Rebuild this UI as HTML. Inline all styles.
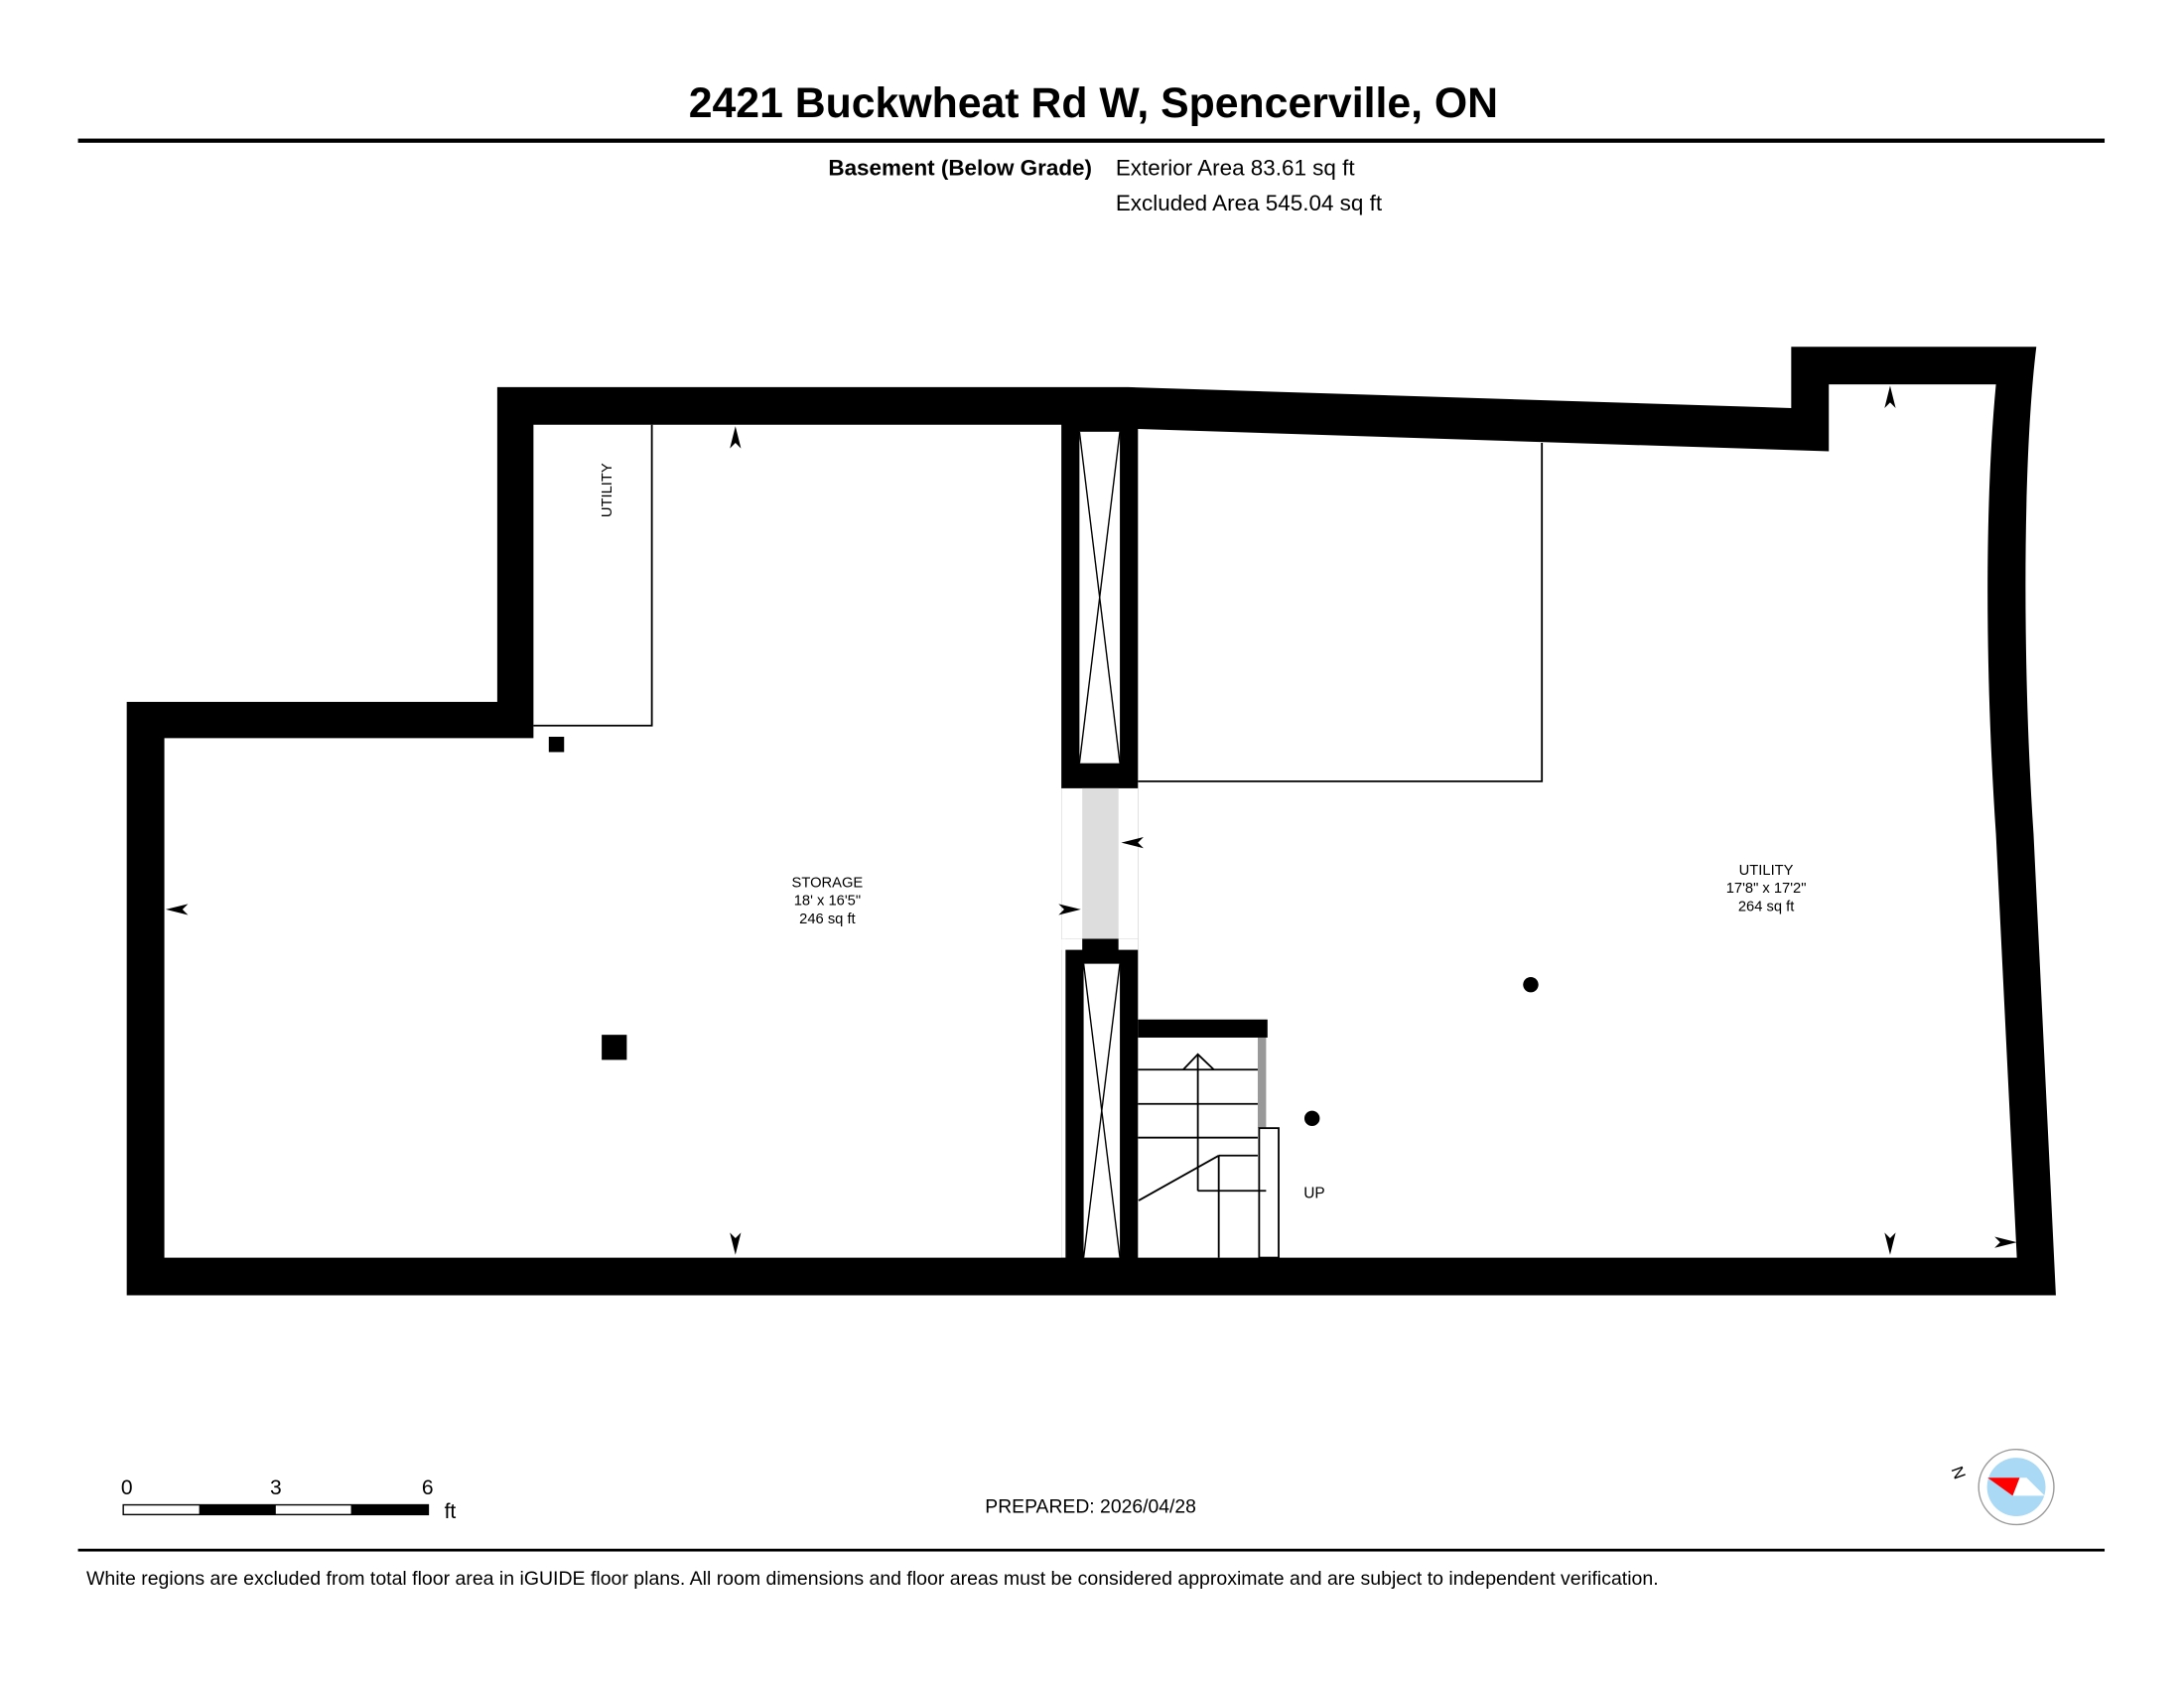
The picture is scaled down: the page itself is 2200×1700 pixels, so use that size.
<!DOCTYPE html>
<html><head><meta charset="utf-8"><style>html,body{margin:0;padding:0;background:#fff}svg{display:block}</style></head>
<body>
<svg width="2200" height="1700" viewBox="0 0 1568 1212" preserveAspectRatio="none" xmlns="http://www.w3.org/2000/svg" font-family="Liberation Sans, Arial, sans-serif">
<rect width="1568" height="1212" fill="#fff"/>
<text x="785" y="84" font-size="30.5" font-weight="bold" text-anchor="middle">2421 Buckwheat Rd W, Spencerville, ON</text>
<rect x="56" y="99.5" width="1455" height="3"/>
<text x="784" y="126" font-size="16" font-weight="bold" text-anchor="end">Basement (Below Grade)</text>
<text x="801" y="126" font-size="16">Exterior Area 83.61 sq ft</text>
<text x="801" y="151" font-size="16">Excluded Area 545.04 sq ft</text>

<!-- walls -->
<path d="M91,504 L357,504 L357,278 L810,278 L1286,293 L1286,249 L1462,249 C1452,330 1452,480 1460,599 L1476,930 L91,930 Z" fill="#000"/>
<path d="M118,530 L383,530 L383,305 L762,305 L762,903 L118,903 Z" fill="#fff"/>
<path d="M817,308 L1313,324 L1313,276 L1433,276 C1425,360 1425,480 1433,599 L1448,903 L817,903 Z" fill="#fff"/>
<!-- middle column -->
<rect x="775" y="310" width="29" height="238" fill="#fff"/>
<line x1="775" y1="310" x2="804" y2="548" stroke="#000" stroke-width="1"/>
<line x1="804" y1="310" x2="775" y2="548" stroke="#000" stroke-width="1"/>
<rect x="762" y="566" width="55" height="108" fill="#fff"/>
<rect x="777" y="566" width="26" height="108" fill="#ddd"/>
<rect x="762" y="674" width="3" height="229" fill="#fff"/>
<rect x="762" y="674" width="15" height="8" fill="#fff"/>
<rect x="803" y="674" width="14" height="8" fill="#fff"/>
<rect x="778" y="692" width="26" height="211" fill="#fff"/>
<line x1="778" y1="692" x2="804" y2="903" stroke="#000" stroke-width="1"/>
<line x1="804" y1="692" x2="778" y2="903" stroke="#000" stroke-width="1"/>

<!-- interior lines -->
<g stroke="#000" stroke-width="1.3" fill="none">
<polyline points="468,305 468,521 383,521"/>
<polyline points="1107,318 1107,561 817,561"/>
</g>

<!-- stairs -->
<rect x="817" y="732" width="93" height="13" fill="#000"/>
<rect x="903" y="745" width="6" height="65" fill="#999"/>
<g stroke="#000" stroke-width="1.3" fill="none">
<rect x="904" y="810" width="14" height="93" fill="#fff"/>
<line x1="817" y1="768" x2="903" y2="768"/>
<line x1="817" y1="792.6" x2="903" y2="792.6"/>
<line x1="817" y1="816.8" x2="903" y2="816.8"/>
<line x1="875" y1="829.7" x2="903" y2="829.7"/>
<line x1="875" y1="829.7" x2="875" y2="903"/>
<line x1="817.5" y1="862" x2="875" y2="829.7"/>
<polyline points="860,855 860,757"/>
<line x1="860" y1="855" x2="909" y2="855"/>
<polyline points="849.5,768 860,757 871.5,768"/>
</g>
<text x="936" y="860" font-size="11">UP</text>

<circle cx="942" cy="803" r="5.5"/>
<circle cx="1099" cy="707" r="5.5"/>
<rect x="394" y="529" width="11" height="11"/>
<rect x="432" y="743" width="18" height="18"/>

<g font-size="10.5" text-anchor="middle">
<text x="594" y="637">STORAGE</text>
<text x="594" y="650">18' x 16'5"</text>
<text x="594" y="663">246 sq ft</text>
<text x="1268" y="628">UTILITY</text>
<text x="1268" y="641">17'8" x 17'2"</text>
<text x="1268" y="654">264 sq ft</text>
<text x="0" y="0" transform="translate(439,352) rotate(-90)">UTILITY</text>
</g>

<!-- arrowheads -->
<g fill="#000">
<path d="M528,306 L532,322 L528,318 L524,322 Z"/>
<path d="M528,901 L532,885 L528,889 L524,885 Z"/>
<path d="M119,653 L135,649 L131,653 L135,657 Z"/>
<path d="M776,653 L760,649 L764,653 L760,657 Z"/>
<path d="M805,605 L821,601 L817,605 L821,609 Z"/>
<path d="M1357,277 L1361,293 L1357,289 L1353,293 Z"/>
<path d="M1357,901 L1361,885 L1357,889 L1353,885 Z"/>
<path d="M1448,892 L1432,888 L1436,892 L1432,896 Z"/>
</g>

<!-- scale bar -->
<g font-size="15">
<text x="91" y="1073" text-anchor="middle">0</text>
<text x="198" y="1073" text-anchor="middle">3</text>
<text x="307" y="1073" text-anchor="middle">6</text>
<text x="319" y="1090">ft</text>
</g>
<rect x="88.5" y="1080.5" width="219" height="7" fill="#fff" stroke="#000" stroke-width="1"/>
<rect x="143" y="1080.5" width="55" height="7"/>
<rect x="252" y="1080.5" width="55.5" height="7"/>
<text x="783" y="1086" font-size="13.8" text-anchor="middle">PREPARED: 2026/04/28</text>

<!-- compass -->
<circle cx="1447.6" cy="1067.7" r="27" fill="#fff" stroke="#999" stroke-width="1"/>
<circle cx="1447.6" cy="1067.7" r="21" fill="#a9d9f5"/>
<polygon points="1450,1061 1455,1061 1468,1074 1445,1074" fill="#fff"/>
<polygon points="1427,1061 1450,1061 1445,1074" fill="#f00"/>
<text x="0" y="0" font-size="12" transform="translate(1410,1056) rotate(-110)" text-anchor="middle">N</text>

<rect x="56" y="1112" width="1455" height="2"/>
<text x="62" y="1138" font-size="13.9">White regions are excluded from total floor area in iGUIDE floor plans. All room dimensions and floor areas must be considered approximate and are subject to independent verification.</text>
</svg>
</body></html>
